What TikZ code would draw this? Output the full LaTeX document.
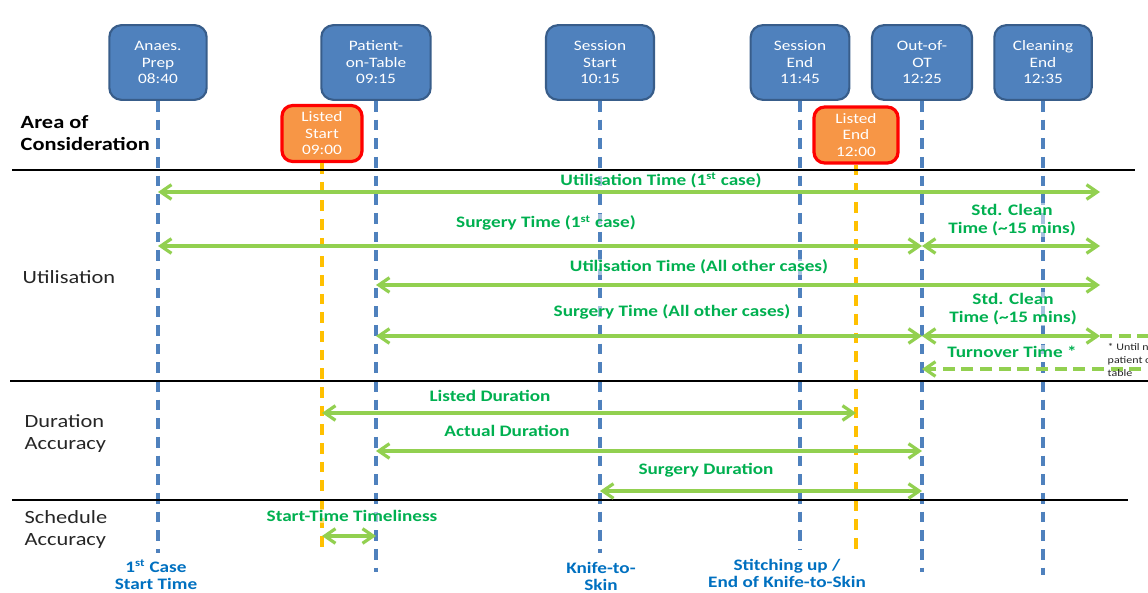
\documentclass[tikz,border=0pt]{standalone}
\usepackage{fontspec}
\setmainfont{Carlito}[FakeStretch=1.2]
\usetikzlibrary{arrows.meta}
\definecolor{boxblue}{HTML}{4F81BD}
\definecolor{boxedge}{HTML}{385D8A}
\definecolor{listfill}{HTML}{F79646}
\definecolor{listedge}{HTML}{FF0000}
\definecolor{amber}{HTML}{FFC000}
\definecolor{spangreen}{HTML}{92D050}
\definecolor{textgreen}{HTML}{00B050}
\definecolor{textblue}{HTML}{0070C0}
\definecolor{sidegray}{HTML}{262626}
\begin{document}
\begin{tikzpicture}[x=0.75pt,y=0.75pt,yscale=-1,xscale=1,
  event/.style={draw=boxedge,fill=boxblue,line width=1.6pt,rounded corners=9pt,text=white,align=center,minimum height=56pt,inner sep=2pt,font=\fontsize{10.8}{12.4}\selectfont},
  listed/.style={draw=listedge,fill=listfill,line width=2.4pt,rounded corners=8pt,text=white,align=center,minimum height=42pt,inner sep=2pt,font=\fontsize{10.8}{12.4}\selectfont},
  evline/.style={boxblue,line width=3pt,dash pattern=on 8pt off 6pt},
  lsline/.style={amber,line width=3pt,dash pattern=on 8pt off 6pt},
  barb/.tip={Straight Barb[length=8pt,width=11pt,line width=2.4pt]},
  span/.style={spangreen,line width=2.6pt,barb-barb},
  spandash/.style={spangreen,line width=2.6pt,dash pattern=on 9pt off 5pt},
  tlabel/.style={text=textgreen,font=\bfseries\fontsize{12}{13.5}\selectfont,fill=white,fill opacity=0.5,text opacity=1,inner sep=1pt,align=center},
  side/.style={anchor=west,align=left,text=sidegray,font=\fontsize{14}{16.5}\selectfont},
  foot/.style={text=textblue,font=\bfseries\fontsize{12}{12.75}\selectfont,align=center}]
\useasboundingbox (0,0) rectangle (1148,592);
% Event boxes
\node [event,minimum width=73pt] (anaes) at (158,62.5) {Anaes.\\Prep\\08:40};
\node [event,minimum width=82pt] (pot) at (376,62.5) {Patient-\\on-Table\\09:15};
\node [event,minimum width=81pt] (sstart) at (600,62.5) {Session\\Start\\10:15};
\node [event,minimum width=74pt] (send) at (800,62.5) {Session\\End\\11:45};
\node [event,minimum width=75pt] (oot) at (922,62.5) {Out-of-\\OT\\12:25};
\node [event,minimum width=73pt] (cend) at (1043,62.5) {Cleaning\\End\\12:35};
\node [listed,minimum width=60pt] (lstart) at (322,133.5) {Listed\\Start\\09:00};
\node [listed,minimum width=63pt] (lend) at (856,135) {Listed\\End\\12:00};
\coordinate (edge) at (1100,0);
\coordinate (far) at (1160,0);
% Time lines
\draw [evline] (anaes.south) -- (anaes |- 0,553);
\draw [evline] (pot.south) -- (pot |- 0,572);
\draw [evline] (sstart.south) -- (sstart |- 0,553);
\draw [evline] (send.south) -- (send |- 0,550);
\draw [evline] (oot.south) -- (oot |- 0,572);
\draw [evline] (cend.south) -- (cend |- 0,575);
\draw [lsline] (lstart.south) -- (lstart |- 0,552);
\draw [lsline] (lend.south) -- (lend |- 0,550);
% Section rules
\draw [line width=1.6pt] (12,170) -- (1135,170);
\draw [line width=1.6pt] (10,381) -- (1148,381);
\draw [line width=1.6pt] (12,500) -- (1128,500);
% Side labels
\node [side,font=\bfseries\fontsize{14}{16.5}\selectfont,text=black] (aoc) at (16,133) {Area of\\Consideration};
\node [side] (util) at (18,277) {Utilisation};
\node [side] (dura) at (20,434) {Duration\\Accuracy};
\node [side] (sched) at (20,530) {Schedule\\Accuracy};
% Utilisation spans
\draw [span] (anaes |- 0,192) -- (edge |- 0,192);
\node [tlabel] (ut1) at (661,180) {Utilisation Time (1\textsuperscript{st} case)};
\draw [span] (anaes |- 0,246) -- (oot |- 0,246);
\node [tlabel] (st1) at (546,223) {Surgery Time (1\textsuperscript{st} case)};
\draw [span] (oot |- 0,246) -- (edge |- 0,246);
\node [tlabel] (sc1) at (1012,220) {Std. Clean\\Time (\textasciitilde15 mins)};
\draw [span] (pot |- 0,285) -- (edge |- 0,285);
\node [tlabel] (ut2) at (699,267) {Utilisation Time (All other cases)};
\draw [span] (pot |- 0,336) -- (oot |- 0,336);
\node [tlabel] (st2) at (672,312) {Surgery Time (All other cases)};
\draw [span] (oot |- 0,336) -- (edge |- 0,336);
\node [tlabel] (sc2) at (1013,309) {Std. Clean\\Time (\textasciitilde15 mins)};
\draw [spandash] (edge |- 0,336) -- (far |- 0,336);
\draw [spandash,-barb] (far |- 0,369) -- (oot |- 0,369);
\node [tlabel] (turn) at (1012,352) {Turnover Time *};
\node [anchor=west,align=left,text=sidegray,font=\fontsize{7.5}{9.4}\selectfont] (note) at (1103,360) {* Until next\\patient on\\table};
% Duration spans
\draw [span] (lstart |- 0,413) -- (lend |- 0,413);
\node [tlabel] (ld) at (490,396) {Listed Duration};
\draw [span] (pot |- 0,451) -- (oot |- 0,451);
\node [tlabel] (ad) at (507,431) {Actual Duration};
\draw [span] (sstart |- 0,491) -- (oot |- 0,491);
\node [tlabel] (sd) at (706,470) {Surgery Duration};
% Schedule span
\draw [span] (lstart |- 0,536) -- (pot |- 0,536);
\node [tlabel] (stt) at (352,516) {Start-Time Timeliness};
% Bottom labels
\node [foot] (first) at (156,575) {1\textsuperscript{st} Case\\Start Time};
\node [foot] (knife) at (601,576.5) {Knife-to-\\Skin};
\node [foot] (stitch) at (787,573.5) {Stitching up /\\End of Knife-to-Skin};
\end{tikzpicture}
\end{document}
